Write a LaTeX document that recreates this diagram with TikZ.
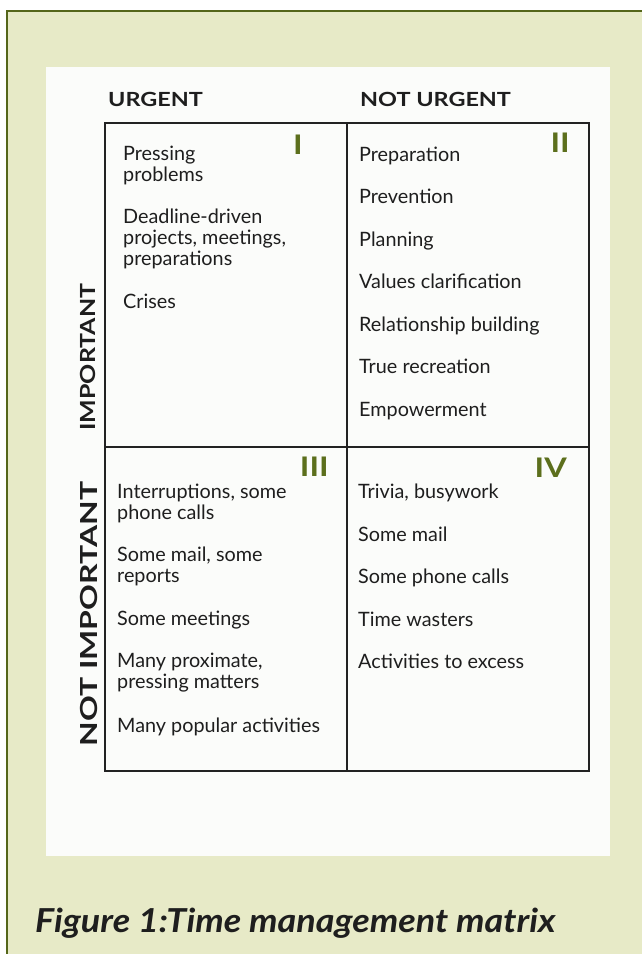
\documentclass[tikz,border=0pt]{standalone}
\usepackage{fontspec}
\setmainfont{Lato}
\newfontfamily\headfont[FakeStretch=1.2]{Lato}
\newfontfamily\widefont[FakeStretch=1.36]{Lato}
\newfontfamily\captfont[FakeStretch=1.09]{Lato}
\definecolor{paper}{HTML}{E7EAC7}
\definecolor{border}{HTML}{55661A}
\definecolor{panel}{HTML}{FBFCFA}
\definecolor{ink}{HTML}{1E1E1E}
\definecolor{frame}{HTML}{222222}
\definecolor{roman}{HTML}{5C6F1C}
\begin{document}
\begin{tikzpicture}[x=1pt,y=-1pt,
  item/.style={anchor=base west, inner sep=0pt, font=\fontsize{19.8}{21}\selectfont, text=ink, align=left},
  head/.style={anchor=base west, inner sep=0pt, font=\headfont\bfseries\fontsize{19.5}{22}\selectfont, text=ink},
  side/.style={anchor=center, inner sep=0pt, rotate=90, font=\headfont\bfseries\fontsize{20.8}{23}\selectfont, text=ink},
  numeral/.style={anchor=north east, inner sep=0pt, font=\headfont\bfseries\fontsize{27}{27}\selectfont, text=roman},
  quad/.style={draw=frame, line width=1.8pt, minimum width=242pt, minimum height=324pt, inner sep=0pt, anchor=north west}]
\useasboundingbox (0,0) rectangle (642,954);
\fill[white] (0,0) rectangle (642,954);
\fill[paper] (7,11) rectangle (642,954);
\draw[border, line width=2pt] (7,954) -- (7,11) -- (642,11);
\fill[panel] (46,67) rectangle (610,856);
% headers
\node[head] (hurg) at (108,106) {URGENT};
\node[head] (hnot) at (360,106) {NOT URGENT};
\node[side] (simp) at (88,357) {IMPORTANT};
\node[side, font=\widefont\bfseries\fontsize{23.5}{25}\selectfont] (snot) at (89,614) {NOT IMPORTANT};
% quadrants
\node[quad] (q1) at (104,122) {};
\node[quad] (q2) at (346,122) {};
\node[quad] (q3) at (104,446) {};
\node[quad] (q4) at (346,446) {};
% numerals
\node[numeral] (n1) at (303,135) {I};
\node[numeral] (n2) at (570,133) {II};
\node[numeral] (n3) at (329,457) {III};
\node[numeral] (n4) at (567,458) {IV};
% quadrant I (anchor = baseline of last line)
\node[item] (a1) at (123,181) {Pressing\\problems};
\node[item] (a2) at (123,265) {Deadline-driven\\projects, meetings,\\preparations};
\node[item] (a3) at (123,308) {Crises};
% quadrant II
\node[item] (b1) at (359,161) {Preparation};
\node[item] (b2) at (359,203) {Prevention};
\node[item] (b3) at (359,246) {Planning};
\node[item] (b4) at (359,288) {Values clarification};
\node[item] (b5) at (359,331) {Relationship building};
\node[item] (b6) at (359,373) {True recreation};
\node[item] (b7) at (359,416) {Empowerment};
% quadrant III
\node[item] (c1) at (117,519) {Interruptions, some\\phone calls};
\node[item] (c2) at (117,582) {Some mail, some\\reports};
\node[item] (c3) at (117,625) {Some meetings};
\node[item] (c4) at (117,688) {Many proximate,\\pressing matters};
\node[item] (c5) at (117,732) {Many popular activities};
% quadrant IV
\node[item] (d1) at (358,498) {Trivia, busywork};
\node[item] (d2) at (358,541) {Some mail};
\node[item] (d3) at (358,583) {Some phone calls};
\node[item] (d4) at (358,626) {Time wasters};
\node[item] (d5) at (358,668) {Activities to excess};
% caption
\node[anchor=base west, inner sep=0pt, font=\captfont\bfseries\itshape\fontsize{33}{36}\selectfont, text=ink] (cap) at (35,932) {Figure 1:Time management matrix};
\end{tikzpicture}
\end{document}
